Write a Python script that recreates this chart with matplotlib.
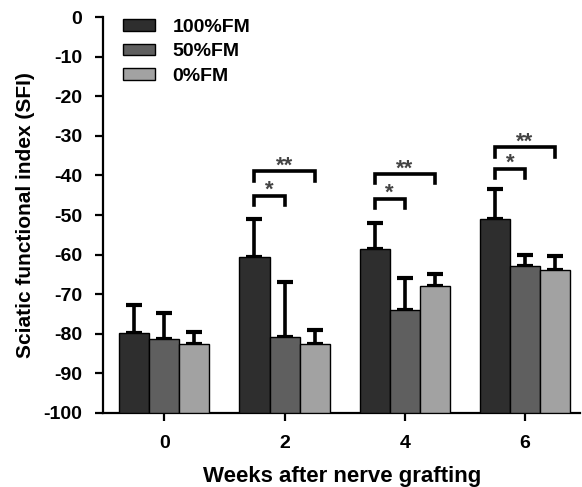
import matplotlib
matplotlib.use("Agg")
import matplotlib.pyplot as plt
from matplotlib.patches import Patch
import numpy as np

plt.rcParams['font.family'] = ['Liberation Sans', 'DejaVu Sans']
plt.rcParams['font.weight'] = 'bold'
plt.rcParams['axes.unicode_minus'] = False

weeks = ["0", "2", "4", "6"]
groups = ["100%FM", "50%FM", "0%FM"]
means = {
    "100%FM": [-79.8, -60.5, -58.6, -51.0],
    "50%FM": [-81.3, -80.8, -74.0, -62.9],
    "0%FM": [-82.6, -82.5, -68.0, -63.9],
}
errs = {
    "100%FM": [7.0, 9.5, 6.7, 7.5],
    "50%FM": [6.5, 14.0, 8.0, 2.7],
    "0%FM": [3.0, 3.5, 3.0, 3.5],
}
colors = {"100%FM": "#2e2e2e", "50%FM": "#5f5f5f", "0%FM": "#a2a2a2"}

# significance brackets: (week index, bar_from, bar_to, y, label)
brackets = [
    (1, 0, 1, -45.1, "*"), (1, 0, 2, -38.9, "**"),
    (2, 0, 1, -45.9, "*"), (2, 0, 2, -39.6, "**"),
    (3, 0, 1, -38.3, "*"), (3, 0, 2, -32.9, "**"),
]

fig = plt.figure(figsize=(5.82, 4.87), dpi=100)
ax = fig.add_axes([0.177, 0.152, 0.82, 0.813])

x = np.arange(len(weeks))
w = 0.25
bottom = -100
for i, g in enumerate(groups):
    pos = x + (i - 1) * w
    vals = np.array(means[g])
    ax.bar(pos, vals - bottom, bottom=bottom, width=w, color=colors[g],
           edgecolor="black", linewidth=1.0, zorder=3)
    ax.errorbar(pos, vals, yerr=[np.zeros_like(vals), errs[g]], fmt="none",
                ecolor="black", elinewidth=2.6, capsize=5.5, capthick=3.0, zorder=2)

leg_h = 2.4
for wk, a, b, y, lab in brackets:
    xa = x[wk] + (a - 1) * w
    xb = x[wk] + (b - 1) * w
    ax.plot([xa, xa, xb, xb], [y - leg_h, y, y, y - leg_h], color="black",
            lw=2.6, solid_joinstyle="miter", zorder=4)
    ax.text((xa + xb) / 2, y - 0.1, lab, ha="center", va="baseline",
            fontsize=16, fontweight="bold", color="#444444")

ax.set_xlim(-0.51, 3.46)
ax.set_ylim(-100, 0)
ax.set_yticks(np.arange(-100, 1, 10))
ax.set_xticks(x)
ax.set_xticklabels(weeks)
for s in ["top", "right"]:
    ax.spines[s].set_visible(False)
for s in ["left", "bottom"]:
    ax.spines[s].set_linewidth(1.6)
ax.tick_params(axis="both", direction="out", length=6, width=1.6, labelsize=14, pad=9)
ax.tick_params(axis="x", pad=10)
for lbl in ax.get_xticklabels() + ax.get_yticklabels():
    lbl.set_fontweight("bold")
ax.set_xlabel("Weeks after nerve grafting", fontsize=16, fontweight="bold", labelpad=10)
ax.set_ylabel("Sciatic functional index (SFI)", fontsize=15, fontweight="bold", labelpad=6.3)

handles = [Patch(facecolor=colors[g], edgecolor="black", linewidth=1.0, label=g) for g in groups]
leg = ax.legend(handles=handles, loc="upper left", bbox_to_anchor=(0.042, 0.995),
                frameon=False, prop={"size": 14, "weight": "bold"},
                borderpad=0, borderaxespad=0,
                handlelength=1.65, handleheight=0.52, handletextpad=0.9, labelspacing=0.38)

fig.savefig("out.png", dpi=100)
